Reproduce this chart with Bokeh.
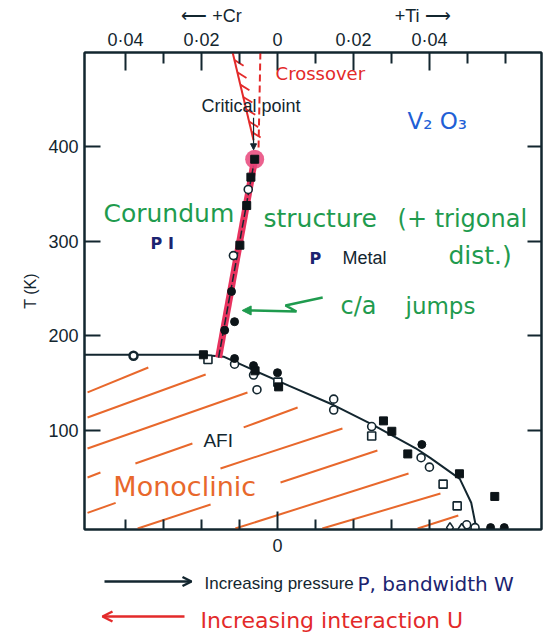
from bokeh.plotting import figure
from bokeh.models import Range1d, LinearAxis, FixedTicker, Label, Arrow, NormalHead, OpenHead
from bokeh.layouts import column
from bokeh.embed import file_html
from bokeh.resources import INLINE
import numpy as np

# ---------------- data (x: +Ti positive, +Cr negative; T in K) ----------------
x_ticks_major = [-0.04, -0.02, 0, 0.02, 0.04]
x_ticks_minor = [-0.03, -0.01, 0.01, 0.03, 0.05, 0.06]
x_tick_labels = ["0·04", "0·02", "0", "0·02", "0·04"]
bottom_minor = [-0.04, -0.03, -0.02, -0.01, 0.01, 0.02, 0.03, 0.04]
T_ticks = [100, 200, 300, 400]
dopant_pos = [-0.0174, 0.0382]
dopant_labels = ["⟵ +Cr", "+Ti ⟶"]

# AFI / metal-insulator (low T) boundary
afi_x = [-0.0508, -0.0200, -0.0142, -0.0073, 0.0031, 0.0149, 0.0250, 0.0364, 0.0403, 0.0480, 0.0510, 0.0524]
afi_T = [180, 180, 178, 165.5, 147, 126.5, 106, 81, 70.5, 48.6, 23.3, -5]

# PI / PM first-order line up to the critical point
mit_x = [-0.0155, -0.0060]
mit_T = [177, 387]
crit_x = [-0.0060]
crit_T = [387]

# crossover region above critical point
cross_left_x = [-0.0118, -0.0063]
cross_left_T = [500, 407]
cross_right_x = [-0.0045, -0.0050]
cross_right_T = [500, 396]
cross_hatch_T = [492, 479, 466, 453, 440, 427, 416]

# measured points
sqf_x = [-0.0060, -0.0070, -0.0081, -0.0099, -0.0195, -0.0059, 0.0003, 0.0279, 0.0301, 0.0343, 0.0479, 0.0572]
sqf_T = [387, 368, 338, 296, 180, 163, 146, 110, 99, 75, 54, 30]
sqo_x = [-0.0183, 0.0001, 0.0248, 0.0436, 0.0473]
sqo_T = [175, 151, 94, 43, 20]
cif_x = [-0.0121, -0.0113, -0.0139, -0.0113, -0.0063, 0.0000, 0.0380, 0.0561, 0.0597]
cif_T = [247, 215, 206, 176, 168.5, 161, 85, -3, -3]
cio_x = [-0.0077, -0.0116, -0.0113, -0.0063, -0.0054, 0.0148, 0.0148, 0.0248, 0.0378, 0.0400, 0.0498, 0.0520]
cio_T = [355, 285, 170, 158.5, 143, 133, 121.5, 104, 71, 61, 0, -3]
ring_x = [-0.0379]
ring_T = [179]
dio_x = [0.0454, 0.0485]
dio_T = [-3, -4]

# hand-drawn hatching of the monoclinic (AFI) region
hatch_x0 = [-0.0500, -0.0500, -0.0500, -0.0500, -0.0374, -0.0089, -0.0500, -0.0150, -0.0368, 0.0008, -0.0111, 0.0118, 0.0369]
hatch_T0 = [140.1, 113.6, 80.8, 50.1, 64.9, 103.1, 12.6, 59.6, -4, 44.8, -4, -4, -4]
hatch_x1 = [-0.0340, -0.0189, -0.0079, -0.0466, -0.0224, 0.0053, -0.0426, 0.0171, -0.0176, 0.0263, 0.0345, 0.0429, 0.0476]
hatch_T1 = [166.5, 159.1, 140.1, 55.4, 86.1, 124.2, 23.2, 102.0, 21.5, 78.7, 54.3, 33.1, 9.8]

# c/a jumps arrow path
ca_x = [0.0119, 0.0021, 0.0050, -0.0071]
ca_T = [240.6, 232.2, 225.8, 226.9]

INK = "#13262f"
NAVY = "#1b2470"
GREEN = "#1f9b4e"
ORANGE = "#e8682c"
RED = "#e32a2a"
BLUE = "#1f5fd6"
PRINT = "Liberation Sans"
HAND = "DejaVu Sans"

p = figure(width=548, height=564, x_range=Range1d(-0.0508, 0.0695), y_range=Range1d(-5, 500),
           output_backend="svg", toolbar_location=None,
           x_axis_location=None, y_axis_location=None,
           min_border_left=84, min_border_right=7, min_border_top=52, min_border_bottom=35)
for g in p.grid:
    g.visible = False
p.outline_line_color = INK
p.outline_line_width = 2
p.background_fill_color = "white"
p.border_fill_color = "white"

def style_axis(ax, tick_in, minor_in=0):
    ax.axis_line_color = INK
    ax.axis_line_width = 2
    ax.major_tick_line_color = INK
    ax.major_tick_line_width = 2
    ax.major_tick_in = tick_in
    ax.major_tick_out = 0
    ax.minor_tick_line_color = INK if minor_in else None
    ax.minor_tick_line_width = 2
    ax.minor_tick_in = minor_in
    ax.minor_tick_out = 0
    ax.major_label_text_font = PRINT
    ax.major_label_text_font_size = "18px"
    ax.major_label_text_color = INK

top = LinearAxis(ticker=FixedTicker(ticks=x_ticks_major, minor_ticks=x_ticks_minor))
style_axis(top, 18, 11)
top.major_label_overrides = {t: l for t, l in zip(x_ticks_major, x_tick_labels)}
top.major_label_standoff = 3
p.add_layout(top, "above")

top2 = LinearAxis(ticker=FixedTicker(ticks=dopant_pos, minor_ticks=[]))
style_axis(top2, 0)
top2.axis_line_color = None
top2.major_tick_line_color = None
top2.major_label_overrides = {t: l for t, l in zip(dopant_pos, dopant_labels)}
top2.major_label_standoff = 1
p.add_layout(top2, "above")

bottom = LinearAxis(ticker=FixedTicker(ticks=[0], minor_ticks=bottom_minor))
style_axis(bottom, 18, 10)
bottom.major_label_standoff = 9
p.add_layout(bottom, "below")

left = LinearAxis(ticker=FixedTicker(ticks=T_ticks), axis_label="T (K)")
style_axis(left, 16)
left.major_label_standoff = 6
left.axis_label_text_font = PRINT
left.axis_label_text_font_size = "16px"
left.axis_label_text_font_style = "normal"
left.axis_label_text_color = INK
left.axis_label_standoff = 6
p.add_layout(left, "left")

right = LinearAxis(ticker=FixedTicker(ticks=T_ticks))
style_axis(right, 14)
right.major_label_text_color = None
p.add_layout(right, "right")

# hatching
p.segment(x0=hatch_x0, y0=hatch_T0, x1=hatch_x1, y1=hatch_T1, line_color=ORANGE, line_width=2)

# crossover region
p.line(cross_left_x, cross_left_T, line_color=RED, line_width=2)
p.line(cross_right_x, cross_right_T, line_color=RED, line_width=2, line_dash="7 4")
hx0 = np.interp(cross_hatch_T, cross_left_T[::-1], cross_left_x[::-1])
p.segment(x0=hx0, y0=cross_hatch_T, x1=hx0 + 0.0024, y1=np.array(cross_hatch_T) - 6,
          line_color=RED, line_width=1.8)

# boundaries
p.line(afi_x, afi_T, line_color=INK, line_width=2)
p.line(mit_x, mit_T, line_color="#e8335f", line_width=7)
p.line(mit_x, mit_T, line_color=INK, line_width=1.5, line_dash="8 3")
p.scatter(crit_x, crit_T, size=19, marker="circle", fill_color="#e8457a", fill_alpha=0.85, line_color=None)

# c/a arrow
p.line(ca_x, ca_T, line_color=GREEN, line_width=2.5)
p.add_layout(Arrow(x_start=ca_x[-1], y_start=ca_T[-1], x_end=ca_x[-1] - 0.0022, y_end=ca_T[-1],
                   line_color=GREEN, line_width=2.5,
                   end=NormalHead(size=9, fill_color=GREEN, line_color=GREEN)))

# markers
p.scatter(ring_x, ring_T, marker="circle", size=8, fill_color="white", line_color=INK, line_width=2.5)
p.scatter(cio_x, cio_T, marker="circle", size=8, fill_color="white", line_color=INK, line_width=1.6)
p.scatter(sqo_x, sqo_T, marker="square", size=8, fill_color="white", line_color=INK, line_width=1.6)
p.scatter(dio_x, dio_T, marker="diamond", size=10, fill_color="white", line_color=INK, line_width=1.6)
p.scatter(cif_x, cif_T, marker="circle", size=8, fill_color="#0c1418", line_color="#0c1418")
p.scatter(sqf_x, sqf_T, marker="square", size=8, fill_color="#0c1418", line_color="#0c1418")

# critical point arrow
p.add_layout(Arrow(x_start=-0.0063, y_start=431, x_end=-0.0063, y_end=397, line_color=INK, line_width=1.2,
                   end=NormalHead(size=6, fill_color=INK, line_color=INK)))

def lab(fig, x, y, text, font, size, color, align="left", style="normal"):
    fig.add_layout(Label(x=x, y=y, text=text, text_font=font, text_font_size=size, text_color=color,
                         text_align=align, text_baseline="middle", text_font_style=style))

lab(p, -0.0200, 443, "Critical point", PRINT, "18px", INK)
lab(p, -0.0005, 478, "Crossover", HAND, "18px", RED)
lab(p, 0.0342, 428, "V₂ O₃", HAND, "23px", BLUE)
lab(p, -0.0458, 330, "Corundum", HAND, "25px", GREEN)
lab(p, -0.0037, 324, "structure", HAND, "25px", GREEN)
lab(p, 0.0316, 324, "(+ trigonal", HAND, "24px", GREEN)
lab(p, 0.0450, 285, "dist.)", HAND, "25px", GREEN)
lab(p, 0.0166, 232, "c/a", HAND, "24px", GREEN)
lab(p, 0.0337, 232, "jumps", HAND, "23px", GREEN)
lab(p, -0.0334, 298, "P I", HAND, "16px", NAVY, style="bold")
lab(p, 0.0100, 282, "P", HAND, "16px", NAVY, align="center", style="bold")
lab(p, 0.0171, 282, "Metal", PRINT, "18px", INK)
lab(p, -0.0195, 89, "AFI", PRINT, "19px", INK)
lab(p, -0.0432, 40, "Monoclinic", HAND, "27px", ORANGE)

# ---- annotation strip below the chart; its frame is aligned with the chart frame,
#      so its x range is given in page pixels of that frame ----
p2 = figure(width=548, height=72, x_range=Range1d(84, 541), y_range=Range1d(72, 0),
            output_backend="svg", toolbar_location=None,
            x_axis_location=None, y_axis_location=None,
            min_border_left=84, min_border_right=7, min_border_top=0, min_border_bottom=0)
for g in p2.grid:
    g.visible = False
p2.outline_line_color = None

p2.add_layout(Arrow(x_start=104, y_start=17, x_end=191, y_end=17, line_color=INK, line_width=2.5,
                    end=OpenHead(size=9, line_color=INK, line_width=2.5)))
lab(p2, 204, 19, "Increasing pressure", PRINT, "17px", INK)
lab(p2, 357, 19, "P, bandwidth W", HAND, "20px", NAVY)
p2.add_layout(Arrow(x_start=184, y_start=52, x_end=102, y_end=52, line_color=RED, line_width=2.5,
                    end=OpenHead(size=10, line_color=RED, line_width=2.5)))
lab(p2, 200, 56, "Increasing interaction U", HAND, "22px", RED)

layout = column(p, p2, spacing=0)
open("out.html", "w").write(file_html(layout, INLINE))
